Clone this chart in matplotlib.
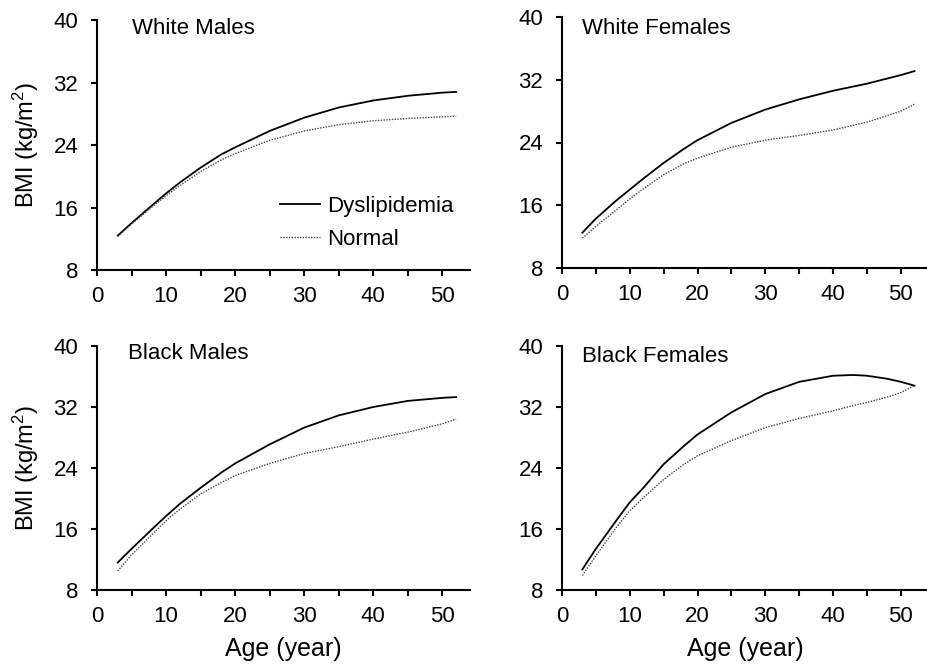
import matplotlib
matplotlib.use("Agg")
import matplotlib.pyplot as plt

plt.rcParams['font.family'] = ['Liberation Sans', 'DejaVu Sans']
plt.rcParams['mathtext.fontset'] = 'custom'
plt.rcParams['mathtext.rm'] = 'Liberation Sans'
plt.rcParams['mathtext.it'] = 'Liberation Sans:italic'

# Data
age = [3, 5, 8, 10, 12, 15, 18, 20, 25, 30, 35, 40, 45, 50, 52]
wm_dys = [12.4, 14.0, 16.3, 17.8, 19.2, 21.1, 22.8, 23.7, 25.8, 27.5, 28.8, 29.7, 30.3, 30.7, 30.8]
wm_nor = [12.3, 13.9, 16.1, 17.5, 18.8, 20.6, 22.1, 22.9, 24.6, 25.8, 26.6, 27.1, 27.4, 27.6, 27.7]
wf_dys = [12.5, 14.3, 16.6, 18.0, 19.4, 21.4, 23.2, 24.3, 26.5, 28.2, 29.5, 30.6, 31.5, 32.6, 33.1]
wf_nor = [11.8, 13.3, 15.4, 16.8, 18.1, 19.9, 21.3, 22.0, 23.4, 24.3, 24.9, 25.6, 26.6, 28.0, 28.9]
bm_dys = [11.6, 13.4, 16.0, 17.7, 19.3, 21.4, 23.4, 24.6, 27.1, 29.3, 30.9, 32.0, 32.8, 33.2, 33.3]
bm_nor = [10.5, 12.6, 15.3, 17.1, 18.6, 20.6, 22.1, 23.0, 24.6, 25.9, 26.8, 27.8, 28.7, 29.8, 30.4]
age_bf = [3, 5, 8, 10, 12, 15, 18, 20, 25, 30, 35, 40, 43, 45, 48, 50, 52]
bf_dys = [10.7, 13.4, 17.1, 19.5, 21.4, 24.5, 26.9, 28.4, 31.3, 33.7, 35.3, 36.1, 36.2, 36.1, 35.7, 35.3, 34.8]
bf_nor = [9.9, 12.5, 16.2, 18.4, 20.1, 22.5, 24.5, 25.6, 27.6, 29.3, 30.5, 31.5, 32.2, 32.6, 33.3, 33.9, 34.8]

panels = [
    ("White Males", age, wm_dys, wm_nor),
    ("White Females", age, wf_dys, wf_nor),
    ("Black Males", age, bm_dys, bm_nor),
    ("Black Females", age_bf, bf_dys, bf_nor),
]
yticks = [8, 16, 24, 32, 40]
xticks = [0, 10, 20, 30, 40, 50]
xminor = [5, 15, 25, 35, 45]

W, H = 928, 666
fig = plt.figure(figsize=(W / 100, H / 100), dpi=100)

# axes boxes in pixels: left, top, right, bottom
boxes = [(97, 20, 470, 270), (562, 17, 928, 268), (97, 346, 470, 590), (562, 346, 928, 590)]
title_pos = [(0.094, 0.968), (0.055, 0.956), (0.083, 0.971), (0.055, 0.955)]

axes = []
for i, ((l, t, r, b), (name, x, dys, nor)) in enumerate(zip(boxes, panels)):
    ax = fig.add_axes([l / W, 1 - b / H, (r - l) / W, (b - t) / H])
    axes.append(ax)
    ax.plot(x, dys, color='black', lw=1.3, ls='-', label='Dyslipidemia')
    ax.plot(x, nor, color='#444444', lw=1.0, ls=(0, (1, 1)), label='Normal')
    ax.set_xlim(0, 54)
    ax.set_ylim(8, 40)
    ax.set_yticks(yticks)
    ax.set_xticks(xticks)
    ax.set_xticks(xminor, minor=True)
    for s in ['top', 'right']:
        ax.spines[s].set_visible(False)
    for s in ['left', 'bottom']:
        ax.spines[s].set_linewidth(1.5)
    ax.tick_params(axis='both', which='both', direction='out', length=4.5, width=1.5, labelsize=16)
    ax.tick_params(axis='y', pad=9)
    ax.tick_params(axis='x', pad=7)
    ax.text(title_pos[i][0], title_pos[i][1], name, transform=ax.transAxes,
            fontsize=16, ha='left', va='center')
    if i % 2 == 0:
        ax.set_ylabel('BMI (kg/m$^2$)', fontsize=17, labelpad=9)
    if i >= 2:
        ax.set_xlabel('Age (year)', fontsize=18, labelpad=7)

leg = axes[0].legend(loc='lower right', bbox_to_anchor=(0.955, 0.08), frameon=False,
                     fontsize=16, handlelength=1.8, handletextpad=0.3, labelspacing=0.55,
                     borderpad=0, borderaxespad=0)

fig.savefig('out.png', dpi=100)
